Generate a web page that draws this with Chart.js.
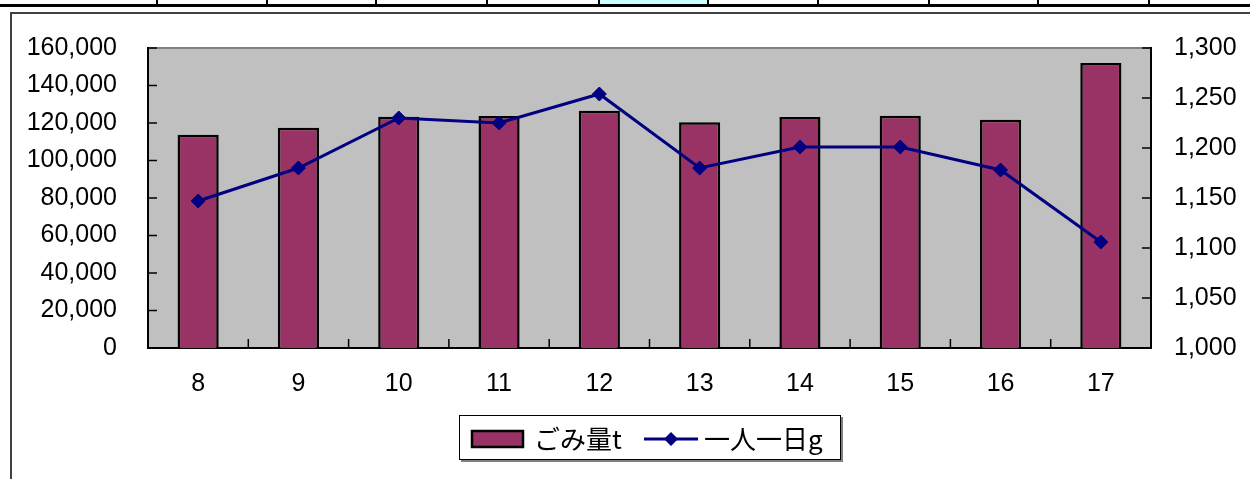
<!DOCTYPE html>
<html>
<head>
<meta charset="utf-8">
<script src="https://cdn.jsdelivr.net/npm/chart.js@4/dist/chart.umd.min.js"></script>
<style>
  body { margin: 0; background: #fff; }
  #wrap { position: relative; width: 1250px; height: 479px; overflow: hidden; }
  .cell { position: absolute; top: 0; height: 4px; border-left: 2px solid #000; }
  #rule { position: absolute; left: 0; top: 4px; width: 1250px; height: 3px; background: #000; }
  #frame { position: absolute; left: 10px; top: 12px; width: 1260px; height: 480px;
           border-left: 2px solid #404040; border-top: 2px solid #404040; }
  #c { position: absolute; left: 0; top: 0; }
</style>
</head>
<body>
<div id="wrap">
  <div id="rule"></div>
  <div id="frame"></div>
  <canvas id="c" width="1250" height="479"></canvas>
</div>
<script>
// 年度 (平成)
const years = ["8", "9", "10", "11", "12", "13", "14", "15", "16", "17"];
// ごみ量 t
const garbageTons = [113800, 117500, 123400, 123700, 126600, 120400, 123200, 123900, 121800, 152000];
// 一人一日 g
const gramsPerDay = [1147, 1180, 1230, 1225, 1254, 1180, 1201, 1201, 1178, 1106];
const leftTicks = [0, 20000, 40000, 60000, 80000, 100000, 120000, 140000, 160000];
const rightTicks = [1000, 1050, 1100, 1150, 1200, 1250, 1300];

// spreadsheet cell strip at the top
const cellEdges = [156, 266, 375, 486, 598, 707, 817, 928, 1037, 1148];
const wrap = document.getElementById("wrap");
cellEdges.forEach((x, i) => {
  const d = document.createElement("div");
  d.className = "cell";
  d.style.left = x + "px";
  d.style.width = ((cellEdges[i + 1] || 1250) - x) + "px";
  if (x === 598) d.style.background = "#ccffff";
  wrap.appendChild(d);
});

const FONT = "'Liberation Sans', Arial, sans-serif";
const JP = "'Noto Sans CJK JP', sans-serif";
const BAR = "#993366";
const NAVY = "#000080";

const plotPlugin = {
  id: "plotPlugin",
  beforeDraw(chart) {
    const { ctx, chartArea: a } = chart;
    ctx.save();
    ctx.fillStyle = "#c0c0c0";
    ctx.fillRect(a.left, a.top, a.right - a.left, a.bottom - a.top);
    ctx.strokeStyle = "#808080";
    ctx.lineWidth = 2;
    ctx.beginPath();
    ctx.moveTo(a.left, a.top);
    ctx.lineTo(a.right, a.top);
    ctx.stroke();
    ctx.restore();
  },
  afterDraw(chart) {
    const { ctx, chartArea: a, scales } = chart;
    ctx.save();
    ctx.strokeStyle = "#000";
    ctx.lineWidth = 1.5;
    ctx.beginPath();
    // inward tick marks
    scales.y.ticks.forEach((t, i) => {
      const y = scales.y.getPixelForTick(i);
      ctx.moveTo(a.left, y); ctx.lineTo(a.left + 9, y);
    });
    scales.y2.ticks.forEach((t, i) => {
      const y = scales.y2.getPixelForTick(i);
      ctx.moveTo(a.right, y); ctx.lineTo(a.right - 9, y);
    });
    for (let i = 0; i < years.length - 1; i++) {
      const x = (scales.x.getPixelForValue(i) + scales.x.getPixelForValue(i + 1)) / 2;
      ctx.moveTo(x, a.bottom); ctx.lineTo(x, a.bottom - 9);
    }
    ctx.stroke();

    // legend
    const bx = 459, by = 415, bw = 382, bh = 45;
    ctx.fillStyle = "#808080";
    ctx.fillRect(bx + 2, by + bh, bw, 2);
    ctx.fillRect(bx + bw, by + 2, 2, bh);
    ctx.fillStyle = "#fff";
    ctx.fillRect(bx, by, bw, bh);
    ctx.strokeStyle = "#000";
    ctx.lineWidth = 1;
    ctx.strokeRect(bx + 0.5, by + 0.5, bw - 1, bh - 1);
    const cy = by + 24;
    ctx.fillStyle = BAR;
    ctx.fillRect(472, cy - 8, 51, 16);
    ctx.lineWidth = 2.5;
    ctx.strokeRect(472, cy - 8, 51, 16);
    ctx.fillStyle = "#000";
    ctx.font = "26px " + JP;
    ctx.textBaseline = "middle";
    ctx.fillText(chart.data.datasets[1].label, 534, cy);
    ctx.strokeStyle = NAVY;
    ctx.lineWidth = 3;
    ctx.beginPath();
    ctx.moveTo(644, cy); ctx.lineTo(698, cy);
    ctx.stroke();
    ctx.fillStyle = NAVY;
    ctx.beginPath();
    ctx.moveTo(671, cy - 7); ctx.lineTo(678, cy); ctx.lineTo(671, cy + 7); ctx.lineTo(664, cy);
    ctx.closePath();
    ctx.fill();
    ctx.fillStyle = "#000";
    ctx.fillText(chart.data.datasets[0].label, 704, cy);
    ctx.restore();
  }
};

new Chart(document.getElementById("c"), {
  data: {
    labels: years,
    datasets: [
      {
        type: "line",
        label: "一人一日g",
        data: gramsPerDay,
        yAxisID: "y2",
        borderColor: NAVY,
        backgroundColor: NAVY,
        borderWidth: 3,
        pointStyle: "rectRot",
        pointRadius: 7,
        pointBorderWidth: 1,
        tension: 0,
        order: 0
      },
      {
        type: "bar",
        label: "ごみ量t",
        data: garbageTons,
        yAxisID: "y",
        backgroundColor: BAR,
        borderColor: "#000",
        borderWidth: 2.5,
        barPercentage: 0.41,
        categoryPercentage: 1,
        order: 1
      }
    ]
  },
  options: {
    responsive: false,
    animation: false,
    layout: { padding: { top: 48, left: 0, right: 0, bottom: 0 } },
    plugins: { legend: { display: false }, tooltip: { enabled: false } },
    scales: {
      x: {
        offset: true,
        grid: { display: false, drawTicks: false },
        border: { display: true, color: "#000", width: 2 },
        ticks: { color: "#000", font: { family: FONT, size: 25 }, padding: 21, maxRotation: 0 },
        afterFit(s) { s.height = 131; }
      },
      y: {
        position: "left",
        min: 0, max: 160000,
        afterBuildTicks(s) { s.ticks = leftTicks.map(v => ({ value: v })); },
        grid: { display: false, drawTicks: false },
        border: { display: true, color: "#000", width: 2 },
        ticks: {
          color: "#000", font: { family: FONT, size: 25 }, padding: 31,
          callback: v => v.toLocaleString("en-US")
        },
        afterFit(s) { s.width = 148; }
      },
      y2: {
        position: "right",
        min: 1000, max: 1300,
        afterBuildTicks(s) { s.ticks = rightTicks.map(v => ({ value: v })); },
        grid: { display: false, drawTicks: false },
        border: { display: true, color: "#000", width: 2 },
        ticks: {
          color: "#000", font: { family: FONT, size: 25 }, padding: 23,
          callback: v => v.toLocaleString("en-US")
        },
        afterFit(s) { s.width = 99; }
      }
    }
  },
  plugins: [plotPlugin]
});
</script>
</body>
</html>
